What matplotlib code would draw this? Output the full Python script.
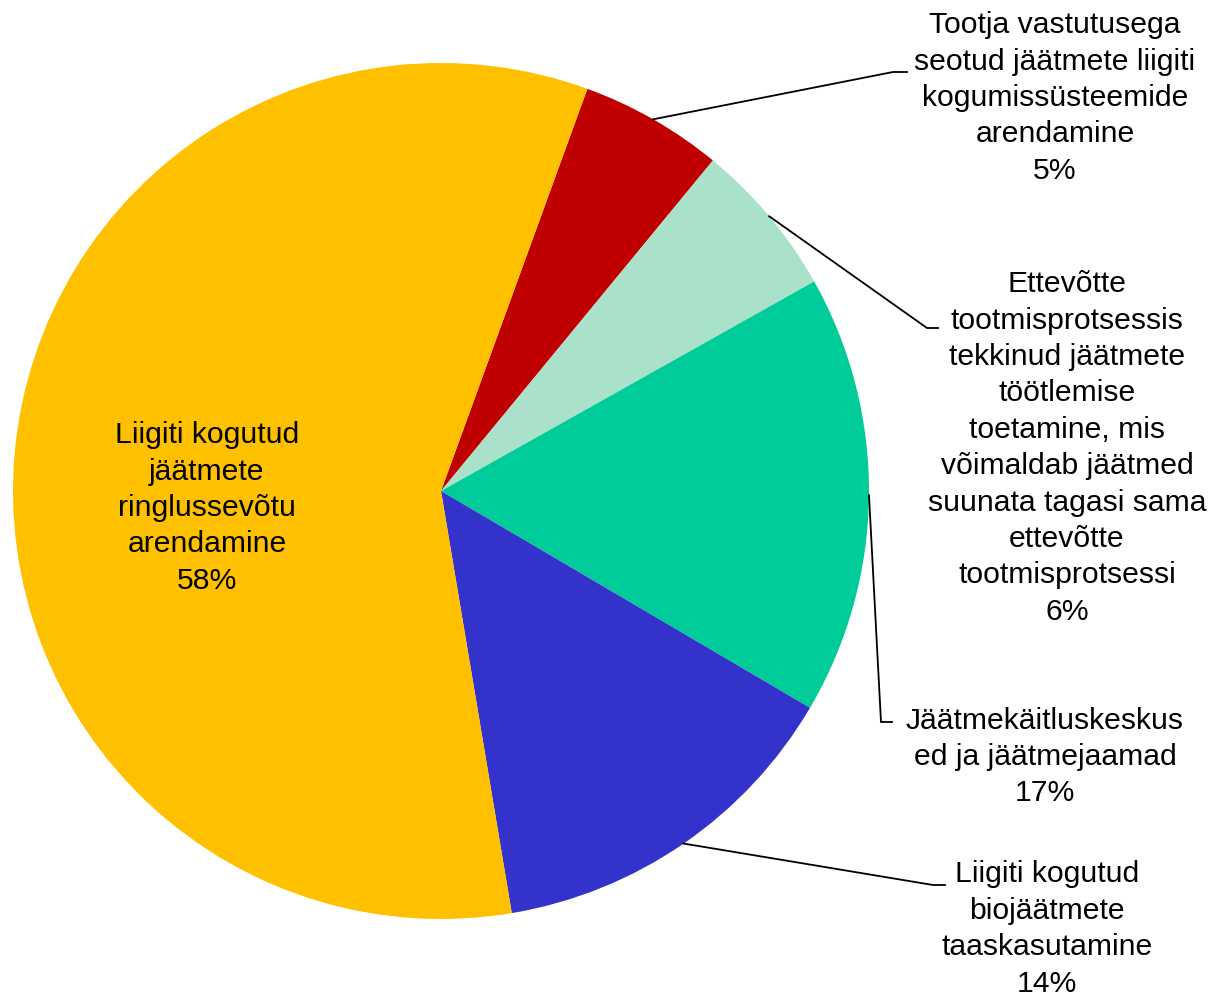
import numpy as np
import matplotlib.pyplot as plt

plt.rcParams['font.family'] = ['Liberation Sans', 'DejaVu Sans']

# slices, clockwise from the red one
labels = ['Tootja vastutusega\nseotud jäätmete liigiti\nkogumissüsteemide\narendamine',
          'Ettevõtte\ntootmisprotsessis\ntekkinud jäätmete\ntöötlemise\ntoetamine, mis\nvõimaldab jäätmed\nsuunata tagasi sama\nettevõtte\ntootmisprotsessi',
          'Jäätmekäitluskeskus\ned ja jäätmejaamad',
          'Liigiti kogutud\nbiojäätmete\ntaaskasutamine',
          'Liigiti kogutud\njäätmete\nringlussevõtu\narendamine']
values = [5.4, 5.9, 16.6, 13.9, 58.2]
colors = ['#C00000', '#A9E1CA', '#00CC99', '#3333CC', '#FFC000']

W, H = 1219, 1001
fig = plt.figure(figsize=(W / 100, H / 100), dpi=100)
ax = fig.add_axes([0, 0, 1, 1])

cx, cy, r = 441, H - 491, 428
wedges, _ = ax.pie(values, colors=colors, startangle=70, counterclock=False,
                   center=(cx, cy), radius=r, frame=True,
                   wedgeprops=dict(linewidth=0))
ax.set_xlim(0, W)
ax.set_ylim(0, H)
ax.set_aspect('equal')
ax.axis('off')

# label placement: text centre, elbow, end of horizontal stub (pixel coords, y down)
text_pos = [(1055, 98), (1067, 448), (1045, 757), (1047, 929), (207, 508)]
elbows = [((893, 72), (907, 72)),
          ((927, 328), (938, 328)),
          ((881, 722), (892, 722)),
          ((933, 885), (945, 885)),
          None]

fs = 21.7
for i, w in enumerate(wedges):
    pct = int(round(values[i]))
    txt = f'{labels[i]}\n{pct}%'
    tx, ty = text_pos[i]
    ax.text(tx, H - ty, txt, ha='center', va='center', fontsize=fs,
            linespacing=1.38, color='black')
    if elbows[i] is not None:
        mid = np.deg2rad((w.theta1 + w.theta2) / 2)
        sx, sy = cx + r * np.cos(mid), cy + r * np.sin(mid)
        (ex, ey), (hx, hy) = elbows[i]
        ax.plot([sx, ex, hx], [sy, H - ey, H - hy], color='black', lw=1.3,
                solid_joinstyle='miter')

fig.savefig('out.png', dpi=100)
